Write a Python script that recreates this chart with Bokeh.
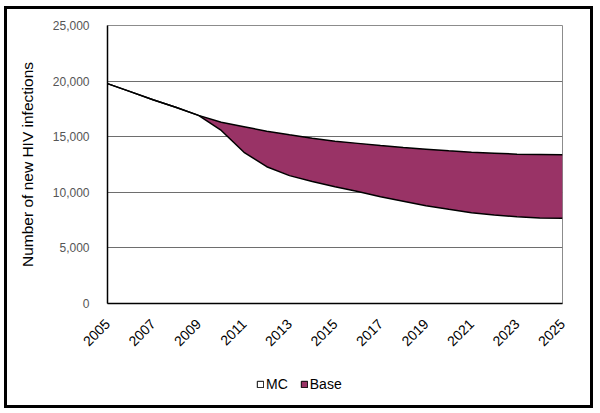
from bokeh.plotting import figure
from bokeh.layouts import column
from bokeh.models import (ColumnDataSource, Legend, LegendItem, FixedTicker,
                          NumeralTickFormatter, Range1d)
from bokeh.embed import file_html
from bokeh.resources import INLINE
from math import pi

years = list(range(2005, 2026))
mc = [19770, 19050, 18330, 17650, 16920, 15560, 13600, 12300, 11500, 10970,
      10500, 10070, 9600, 9200, 8800, 8470, 8170, 7960, 7810, 7690, 7660]
base = [19770, 19050, 18330, 17650, 16920, 16300, 15900, 15500, 15170, 14870,
        14600, 14400, 14200, 14030, 13880, 13730, 13610, 13520, 13430, 13400, 13370]
x_ticks = list(range(2005, 2026, 2))
y_ticks = [0, 5000, 10000, 15000, 20000, 25000]
series_names = ["MC", "Base"]
series_colors = ["white", "#993366"]

src = ColumnDataSource(dict(year=years, mc=mc, base=base))

p = figure(frame_width=455, frame_height=278, output_backend="svg",
           toolbar_location=None,
           x_range=Range1d(2005, 2025), y_range=Range1d(0, 25000),
           min_border_left=100, min_border_right=28, min_border_top=16,
           min_border_bottom=62)
p.background_fill_color = "white"
p.border_fill_color = "white"
p.outline_line_color = "#8c8c8c"
p.outline_line_width = 1

p.varea(x="year", y1="mc", y2="base", source=src, fill_color=series_colors[1])
p.line(x="year", y="base", source=src, line_color="black", line_width=1.5)
p.line(x="year", y="mc", source=src, line_color="black", line_width=1.5)

p.xgrid.visible = False
p.ygrid.grid_line_color = "#6e6e6e"
p.ygrid.grid_line_width = 1
p.ygrid.ticker = FixedTicker(ticks=y_ticks)

p.yaxis.ticker = FixedTicker(ticks=y_ticks)
p.yaxis.formatter = NumeralTickFormatter(format="0,0")
p.yaxis.axis_label = "Number of new HIV infections"
p.yaxis.axis_label_text_font = "Liberation Sans"
p.yaxis.axis_label_text_font_style = "normal"
p.yaxis.axis_label_text_font_size = "15.5px"
p.yaxis.axis_label_text_color = "black"
p.yaxis.axis_label_standoff = 14
p.yaxis.major_label_text_font = "Liberation Sans"
p.yaxis.major_label_text_font_size = "12px"
p.yaxis.major_label_text_color = "#555555"
p.yaxis.major_label_standoff = 12

p.xaxis.ticker = FixedTicker(ticks=x_ticks)
p.xaxis.major_label_orientation = pi / 4
p.xaxis.major_label_text_font = "Liberation Sans"
p.xaxis.major_label_text_font_size = "14px"
p.xaxis.major_label_text_color = "black"
p.xaxis.major_label_standoff = 12

for ax in (p.xaxis, p.yaxis):
    ax.axis_line_color = "black"
    ax.axis_line_width = 1.5
    ax.major_tick_line_color = None
    ax.minor_tick_line_color = None

# legend strip below the chart (proxy swatches lie outside the visible range)
lf = figure(width=583, height=40, output_backend="svg", toolbar_location=None,
            x_axis_type=None, y_axis_type=None, min_border=0,
            x_range=Range1d(0, 1), y_range=Range1d(0, 1))
lf.outline_line_color = None
lf.xgrid.visible = False
lf.ygrid.visible = False
swatches = []
for color in series_colors:
    swatches.append(lf.quad(left=[5], right=[6], top=[6], bottom=[5],
                            fill_color=color, line_color="black",
                            line_width=1))
legend = Legend(items=[LegendItem(label=n, renderers=[r])
                       for n, r in zip(series_names, swatches)],
                location=(149, 13), orientation="horizontal",
                glyph_width=8, glyph_height=8, label_standoff=2, spacing=12,
                padding=0, margin=0, border_line_color=None,
                background_fill_alpha=0,
                label_text_font="Liberation Sans", label_text_font_size="14px",
                label_text_color="black", label_height=14)
lf.add_layout(legend, "center")

layout = column(p, lf, spacing=0,
                styles={"border": "3px solid black", "margin": "6px 0 0 4px"})

open("out.html", "w").write(file_html(layout, INLINE))
